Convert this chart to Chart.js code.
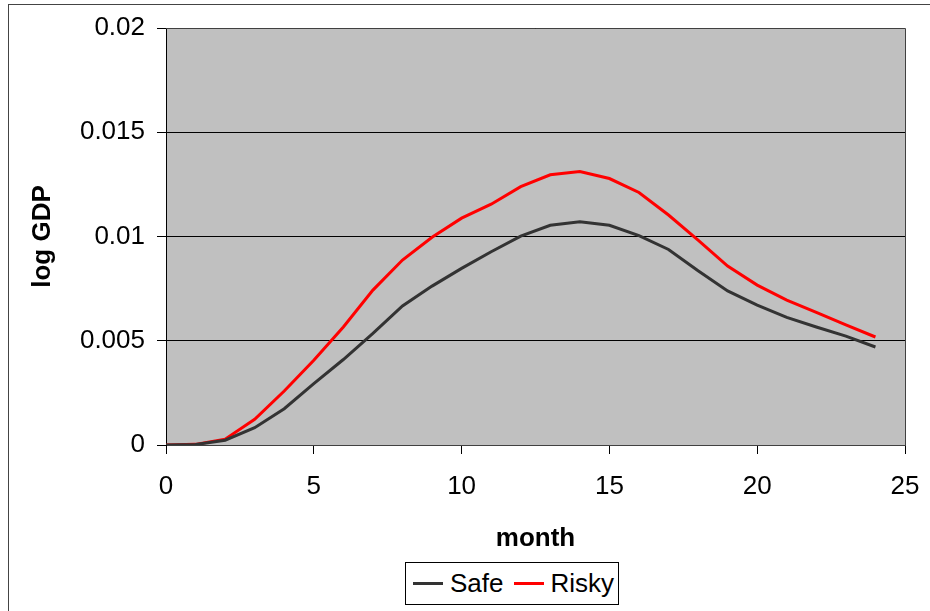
<!DOCTYPE html>
<html>
<head>
<meta charset="utf-8">
<script src="https://cdn.jsdelivr.net/npm/chart.js@4.4.1/dist/chart.umd.min.js"></script>
<style>
  html, body { margin: 0; padding: 0; background: #fff; }
  #wrap { position: relative; width: 930px; height: 611px; overflow: hidden; }
  #frame { position: absolute; left: 8px; top: 4px; width: 1000px; height: 1000px;
           border-left: 1px solid #444; border-top: 1px solid #444; }
  #chart { position: absolute; left: 0; top: 0; }
  #legend { position: absolute; left: 405px; top: 562px; width: 212px; height: 41px;
            border: 1px solid #000; background: #fff; display: flex; align-items: center;
            font-family: "Liberation Sans", Arial, sans-serif; font-size: 26px; color: #000; }
  #legend .sw { display: inline-block; width: 30px; height: 3px; margin-left: 7px; }
  #legend .lb { margin-left: 7px; margin-right: 3px; }
</style>
</head>
<body>
<div id="wrap">
  <div id="frame"></div>
  <canvas id="chart" width="930" height="611"></canvas>
  <div id="legend"></div>
</div>
<script>
// Data
const months = [0, 1, 2, 3, 4, 5, 6, 7, 8, 9, 10, 11, 12, 13, 14, 15, 16, 17, 18, 19, 20, 21, 22, 23, 24];
const safe  = [0, 0.00002, 0.00023, 0.00083, 0.00174, 0.00294, 0.0041, 0.00535, 0.00667, 0.00762,
               0.00847, 0.00927, 0.01002, 0.01054, 0.01071, 0.01054, 0.01004, 0.00938, 0.00836,
               0.00739, 0.00671, 0.00612, 0.00566, 0.00522, 0.0047];
const risky = [0, 0.00003, 0.00028, 0.00123, 0.00259, 0.00406, 0.00566, 0.00743, 0.00887, 0.00996,
               0.01088, 0.01155, 0.01239, 0.01296, 0.01312, 0.01278, 0.01211, 0.01103, 0.00983,
               0.00858, 0.00767, 0.00695, 0.00636, 0.00576, 0.00518];
const yTicks = [0, 0.005, 0.01, 0.015, 0.02];
const xTicks = [0, 5, 10, 15, 20, 25];

const FONT = '"Liberation Sans", Arial, sans-serif';

// gray plot area + frame around it
const plotArea = {
  id: 'plotArea',
  beforeDraw(chart) {
    const { ctx, chartArea: a } = chart;
    ctx.save();
    ctx.fillStyle = '#c0c0c0';
    ctx.fillRect(a.left, a.top, a.right - a.left, a.bottom - a.top);
    ctx.restore();
  },
  afterDraw(chart) {
    const { ctx, chartArea: a } = chart;
    ctx.save();
    ctx.strokeStyle = '#404040';
    ctx.lineWidth = 1;
    ctx.beginPath();
    ctx.moveTo(a.left, Math.round(a.top) + 0.5);
    ctx.lineTo(Math.round(a.right) + 0.5, Math.round(a.top) + 0.5);
    ctx.lineTo(Math.round(a.right) + 0.5, a.bottom);
    ctx.stroke();
    ctx.restore();
  }
};

const toPoints = arr => months.map((m, i) => ({ x: m, y: arr[i] }));

const chart = new Chart(document.getElementById('chart'), {
  type: 'line',
  data: {
    datasets: [
      { label: 'Safe',  data: toPoints(safe),  borderColor: '#333333', backgroundColor: '#333333',
        borderWidth: 3, pointRadius: 0, tension: 0 },
      { label: 'Risky', data: toPoints(risky), borderColor: '#ff0000', backgroundColor: '#ff0000',
        borderWidth: 3, pointRadius: 0, tension: 0 }
    ]
  },
  options: {
    responsive: false,
    animation: false,
    devicePixelRatio: 1,
    layout: { padding: { left: 0, right: 25, top: 28, bottom: 0 } },
    plugins: { legend: { display: false }, tooltip: { enabled: false } },
    scales: {
      x: {
        type: 'linear', min: 0, max: 25,
        afterBuildTicks: s => { s.ticks = xTicks.map(v => ({ value: v })); },
        afterFit: s => { s.height = 166; s.paddingLeft = 0; s.paddingRight = 0; },
        ticks: { color: '#000', padding: 17, font: { family: FONT, size: 26 } },
        grid: { drawOnChartArea: false, color: '#000', tickLength: 9 },
        border: { color: '#404040', width: 1 },
        title: { display: true, text: 'month', color: '#000',
                 font: { family: FONT, size: 26, weight: 'bold' }, padding: { top: 0, bottom: 57 } }
      },
      y: {
        min: 0, max: 0.02,
        afterBuildTicks: s => { s.ticks = yTicks.map(v => ({ value: v })); },
        afterFit: s => { s.width = 166; },
        ticks: { color: '#000', padding: 12, font: { family: FONT, size: 26 },
                 callback: v => String(+v.toFixed(3)) },
        grid: { color: '#000', tickLength: 9, lineWidth: 1 },
        border: { color: '#000', width: 1 },
        title: { display: true, text: 'log GDP', color: '#000',
                 font: { family: FONT, size: 26, weight: 'bold' }, padding: { top: 27, bottom: 0 } }
      }
    }
  },
  plugins: [plotArea]
});

// HTML legend built from the datasets
const legendEl = document.getElementById('legend');
chart.data.datasets.forEach(ds => {
  const sw = document.createElement('span');
  sw.className = 'sw';
  sw.style.background = ds.borderColor;
  const lb = document.createElement('span');
  lb.className = 'lb';
  lb.textContent = ds.label;
  legendEl.appendChild(sw);
  legendEl.appendChild(lb);
});
</script>
</body>
</html>
